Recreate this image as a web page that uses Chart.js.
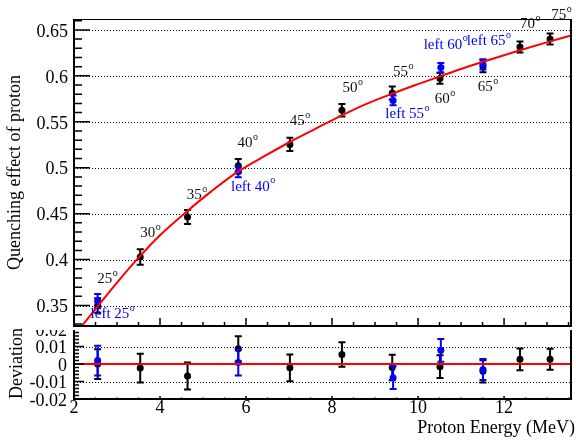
<!DOCTYPE html>
<html>
<head>
<meta charset="utf-8">
<script src="https://cdn.jsdelivr.net/npm/chart.js@4.4.0/dist/chart.umd.min.js"></script>
<style>
  body { margin: 0; background: #fff; }
  #wrap { position: relative; width: 576px; height: 441px; }
  #topCanvas { position: absolute; left: 0; top: 0; z-index: 2; }
  #devCanvas { position: absolute; left: 0; top: 320px; z-index: 1; }
</style>
</head>
<body>
<div id="wrap">
  <canvas id="devCanvas" width="576" height="121"></canvas>
  <canvas id="topCanvas" width="576" height="330"></canvas>
</div>
<script>
// axis range
const xMin = 2, xMax = 13.58;

// measured quenching (black points)
const energy = [2.55, 3.54, 4.64, 5.82, 7.02, 8.23, 9.40, 10.51, 11.51, 12.37, 13.07];
const quench = [0.350, 0.4029, 0.4464, 0.5022, 0.5254, 0.5625, 0.5813, 0.5972, 0.6105, 0.6314, 0.6401];
const quenchErr = [0.008, 0.0084, 0.0077, 0.0072, 0.0072, 0.0068, 0.0070, 0.0058, 0.0065, 0.0060, 0.0060];
const angles = ['25', '30', '35', '40', '45', '50', '55', '60', '65', '70', '75'];

// left detector (blue points)
const leftEnergy = [2.55, 5.82, 9.42, 10.53, 11.51];
const leftQuench = [0.3548, 0.4957, 0.5733, 0.6090, 0.6125];
const leftErr = [0.0077, 0.0060, 0.0054, 0.0050, 0.0055];
const leftAngles = ['25', '40', '55', '60', '65'];

// fit curve
const fitEnergy = [2.15, 2.55, 3.0, 3.54, 4.0, 4.64, 5.2, 5.82, 6.5, 7.02, 7.6, 8.23, 8.8, 9.42, 10.0, 10.51, 11.0, 11.51, 12.0, 12.37, 13.07, 13.58];
const fitQuench = [0.326, 0.349, 0.375, 0.404, 0.4265, 0.453, 0.4745, 0.496, 0.5145, 0.528, 0.542, 0.557, 0.5695, 0.581, 0.591, 0.5995, 0.6075, 0.6153, 0.6225, 0.6278, 0.6375, 0.6443];

// deviation from the fit
const devQuench = [0.0, -0.0023, -0.0068, 0.0087, -0.0022, 0.0055, -0.0020, -0.0015, -0.0042, 0.0027, 0.0027];
const devErr = [0.0085, 0.0082, 0.0077, 0.0072, 0.0077, 0.0070, 0.0073, 0.0065, 0.0063, 0.0062, 0.0060];
const devLeft = [0.0020, 0.0008, -0.0078, 0.0078, -0.0032];
const devLeftErr = [0.0085, 0.0074, 0.0065, 0.0065, 0.0060];
const devLine = [0, 0];

// tick labels
const quenchTicks = [0.35, 0.4, 0.45, 0.5, 0.55, 0.6, 0.65];
const devTicks = [-0.02, -0.01, 0, 0.01, 0.02];
const energyTicks = [2, 4, 6, 8, 10, 12];

// where the angle labels sit (data coords: left edge, vertical centre)
const angleLabelPos = [[2.54, 0.3783], [3.54, 0.429], [4.62, 0.470], [5.80, 0.527], [7.015, 0.5505], [8.245, 0.5864],
  [9.42, 0.6037], [10.39, 0.5745], [11.39, 0.5874], [12.37, 0.6565], [13.10, 0.6662]];
const leftLabelPos = [[2.385, 0.3406], [5.65, 0.4794], [9.24, 0.5584], [10.13, 0.6338], [11.135, 0.6374]];

const SERIF = '"Liberation Serif", "DejaVu Serif", serif';
const BLUE = '#0000ff';
const RED = '#ff0000';

function pts(xs, ys) {
  return xs.map((x, i) => ({ x: x, y: ys[i] }));
}

function steps(lo, hi, step) {
  const out = [];
  for (let k = Math.ceil(lo / step - 1e-9); k * step <= hi + 1e-9; k++) out.push(k * step);
  return out;
}

// error bars drawn under the markers
const errorBars = {
  id: 'errorBars',
  beforeDatasetDraw(chart, args) {
    const ds = chart.data.datasets[args.index];
    if (!ds.errors) return;
    const ctx = chart.ctx, xs = chart.scales.x, ys = chart.scales.y;
    ctx.save();
    ctx.strokeStyle = ds.borderColor;
    ctx.lineWidth = 2;
    ds.data.forEach((p, i) => {
      const px = xs.getPixelForValue(p.x);
      const y1 = ys.getPixelForValue(p.y + ds.errors[i]);
      const y2 = ys.getPixelForValue(p.y - ds.errors[i]);
      ctx.beginPath();
      ctx.moveTo(px, y1); ctx.lineTo(px, y2);
      ctx.moveTo(px - 3.5, y1); ctx.lineTo(px + 3.5, y1);
      ctx.moveTo(px - 3.5, y2); ctx.lineTo(px + 3.5, y2);
      ctx.stroke();
    });
    ctx.restore();
  }
};

// frame, ticks, grid and axis text, ROOT style
function panel(o) {
  return {
    id: 'panel',
    beforeDraw(chart) {
      if (!o.cover) return;
      const ctx = chart.ctx;
      ctx.save();
      ctx.fillStyle = '#fff';
      ctx.fillRect(o.cover[0], o.cover[1], o.cover[2], o.cover[3]);
      ctx.restore();
    },
    beforeDatasetsDraw(chart) {
      const ctx = chart.ctx, a = chart.chartArea, ys = chart.scales.y;
      ctx.save();
      ctx.strokeStyle = '#000';
      ctx.lineWidth = 1;
      ctx.setLineDash([1, 2]);
      o.yTicks.forEach(v => {
        const py = Math.round(ys.getPixelForValue(v)) + 0.5;
        ctx.beginPath(); ctx.moveTo(a.left, py); ctx.lineTo(a.right, py); ctx.stroke();
      });
      ctx.restore();
    },
    afterDraw(chart) {
      const ctx = chart.ctx, a = chart.chartArea, xs = chart.scales.x, ys = chart.scales.y;
      ctx.save();
      ctx.strokeStyle = '#000';
      // frame
      ctx.lineWidth = 1;
      ctx.beginPath();
      ctx.moveTo(a.left, a.top + 0.5); ctx.lineTo(a.right - 1, a.top + 0.5);
      ctx.stroke();
      ctx.lineWidth = 2;
      ctx.beginPath();
      ctx.moveTo(a.right - 1, a.top); ctx.lineTo(a.right - 1, a.bottom);
      ctx.moveTo(a.left, a.top); ctx.lineTo(a.left, a.bottom); ctx.lineTo(a.right, a.bottom);
      ctx.stroke();
      // y ticks
      ctx.lineWidth = 1.5;
      ctx.beginPath();
      steps(ys.min, ys.max, o.yMinor).forEach(v => {
        const py = ys.getPixelForValue(v);
        ctx.moveTo(a.left, py); ctx.lineTo(a.left + o.yMinorLen, py);
      });
      o.yTicks.forEach(v => {
        const py = ys.getPixelForValue(v);
        ctx.moveTo(a.left, py); ctx.lineTo(a.left + o.yMajorLen, py);
      });
      // x ticks
      steps(xs.min, xs.max, 0.5).forEach(v => {
        const px = xs.getPixelForValue(v);
        ctx.moveTo(px, a.bottom); ctx.lineTo(px, a.bottom - o.xMinorLen);
      });
      steps(xs.min, xs.max, 2).forEach(v => {
        const px = xs.getPixelForValue(v);
        ctx.moveTo(px, a.bottom); ctx.lineTo(px, a.bottom - o.xMajorLen);
      });
      ctx.stroke();
      // tick labels
      ctx.fillStyle = '#000';
      ctx.font = '18px ' + SERIF;
      ctx.textAlign = 'right';
      ctx.textBaseline = 'middle';
      o.yTicks.forEach(v => ctx.fillText(String(v), o.yLabelX, ys.getPixelForValue(v) + 2));
      if (o.xLabels) {
        ctx.textAlign = 'center';
        o.xLabels.forEach(v => ctx.fillText(String(v), xs.getPixelForValue(v), o.xLabelY));
        ctx.textAlign = 'right';
        ctx.fillText(o.xTitle, 575, o.xTitleY);
      }
      // y title
      ctx.save();
      ctx.translate(o.yTitleX, o.yTitleEnd);
      ctx.rotate(-Math.PI / 2);
      ctx.textAlign = 'left';
      ctx.fillText(o.yTitle, 0, 0);
      ctx.restore();
      ctx.restore();
    }
  };
}

function degText(ctx, txt, x, y) {
  ctx.font = '15px ' + SERIF;
  ctx.fillText(txt, x, y);
  const w = ctx.measureText(txt).width;
  ctx.font = '10px ' + SERIF;
  ctx.fillText('o', x + w + 0.5, y - 6);
}

const angleLabels = {
  id: 'angleLabels',
  afterDraw(chart) {
    const ctx = chart.ctx, xs = chart.scales.x, ys = chart.scales.y;
    ctx.save();
    ctx.textAlign = 'left';
    ctx.textBaseline = 'middle';
    ctx.fillStyle = '#111';
    angles.forEach((t, i) => {
      degText(ctx, t, xs.getPixelForValue(angleLabelPos[i][0]), ys.getPixelForValue(angleLabelPos[i][1]));
    });
    ctx.fillStyle = BLUE;
    leftAngles.forEach((t, i) => {
      degText(ctx, 'left ' + t, xs.getPixelForValue(leftLabelPos[i][0]), ys.getPixelForValue(leftLabelPos[i][1]));
    });
    ctx.restore();
  }
};

const baseOptions = {
  responsive: false,
  animation: false,
  events: [],
  plugins: { legend: { display: false }, tooltip: { enabled: false } }
};

// top panel: quenching vs energy
new Chart(document.getElementById('topCanvas'), {
  type: 'scatter',
  data: {
    datasets: [
      { data: pts(fitEnergy, fitQuench), showLine: true, borderColor: RED, borderWidth: 2, pointRadius: 0,
        cubicInterpolationMode: 'monotone', order: 0 },
      { data: pts(leftEnergy, leftQuench), errors: leftErr, backgroundColor: BLUE, borderColor: BLUE,
        pointRadius: 3.5, pointBorderWidth: 0, order: 1 },
      { data: pts(energy, quench), errors: quenchErr, backgroundColor: '#000', borderColor: '#000',
        pointRadius: 3.5, pointBorderWidth: 0, order: 2 }
    ]
  },
  options: Object.assign({}, baseOptions, {
    layout: { padding: { left: 74, top: 19, right: 0, bottom: 1 } },
    scales: {
      x: { type: 'linear', min: xMin, max: xMax, display: false },
      y: { min: 0.3277, max: 0.6619, display: false }
    }
  }),
  plugins: [panel({
    cover: [30, 0, 546, 330],
    yTicks: quenchTicks, yMinor: 0.01, yMajorLen: 16, yMinorLen: 8,
    xMajorLen: 8, xMinorLen: 4, yLabelX: 68,
    yTitle: 'Quenching effect of proton', yTitleX: 15, yTitleEnd: 270
  }), errorBars, angleLabels]
});

// bottom panel: deviation from the fit
new Chart(document.getElementById('devCanvas'), {
  type: 'scatter',
  data: {
    datasets: [
      { data: pts([xMin, xMax], devLine), showLine: true, borderColor: RED, borderWidth: 2, pointRadius: 0, order: 0 },
      { data: pts(leftEnergy, devLeft), errors: devLeftErr, backgroundColor: BLUE, borderColor: BLUE,
        pointRadius: 3.5, pointBorderWidth: 0, order: 1 },
      { data: pts(energy, devQuench), errors: devErr, backgroundColor: '#000', borderColor: '#000',
        pointRadius: 3.5, pointBorderWidth: 0, order: 2 }
    ]
  },
  options: Object.assign({}, baseOptions, {
    layout: { padding: { left: 74, top: 9, right: 0, bottom: 42 } },
    scales: {
      x: { type: 'linear', min: xMin, max: xMax, display: false },
      y: { min: -0.02, max: 0.02, display: false }
    }
  }),
  plugins: [panel({
    yTicks: devTicks, yMinor: 0.002, yMajorLen: 10, yMinorLen: 5,
    xMajorLen: 3, xMinorLen: 1.5, yLabelX: 67,
    xLabels: energyTicks, xLabelY: 88.5, xTitle: 'Proton Energy (MeV)', xTitleY: 108,
    yTitle: 'Deviation', yTitleX: 17, yTitleEnd: 79
  }), errorBars]
});
</script>
</body>
</html>
